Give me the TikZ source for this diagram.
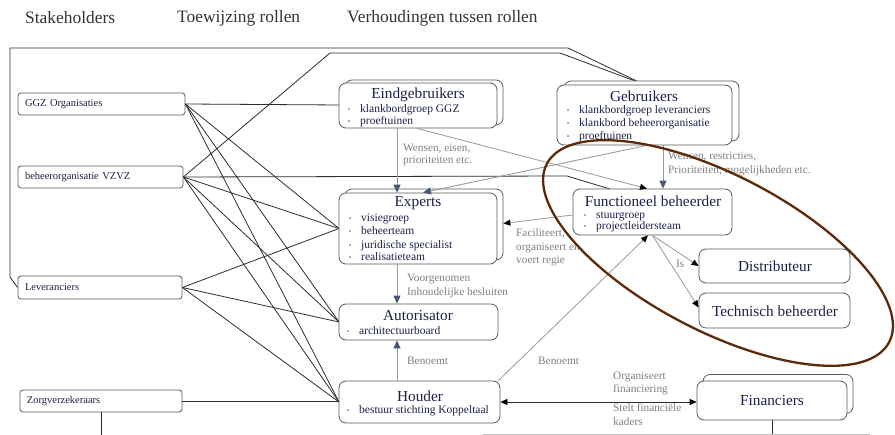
\documentclass[tikz,border=0pt]{standalone}
\usepackage{fontspec}
\setmainfont{Liberation Serif}
\usetikzlibrary{arrows.meta,calc}
\definecolor{navy}{HTML}{1C2148}
\definecolor{boxline}{HTML}{5A5A5A}
\definecolor{lbl}{HTML}{808080}
\definecolor{slate}{HTML}{4A5872}
\definecolor{arrline}{HTML}{9A9A9A}
\definecolor{brownell}{HTML}{5C2A0A}
\definecolor{conn}{HTML}{2E2E2E}
\newcommand{\bp}{\makebox[12pt][l]{\fontsize{6}{6}\selectfont\raisebox{1pt}{\textbullet}}}
\tikzset{
  sbox/.style={draw=boxline, line width=0.8pt, rounded corners=3pt, fill=white,
    font=\fontsize{10.5}{12}\selectfont, text=navy, align=left, inner xsep=7pt, inner ysep=0pt},
  rbox/.style={draw=boxline, line width=0.8pt, rounded corners=7pt, fill=white},
  ttl/.style={font=\fontsize{15.3}{17}\selectfont, text=navy, inner sep=0pt},
  bitem/.style={font=\fontsize{11.5}{13}\selectfont, text=navy, inner sep=0pt, anchor=west, text height=7.8pt, text depth=2.2pt},
  lab/.style={font=\fontsize{11.3}{13}\selectfont, text=lbl, inner sep=0pt, anchor=west, text height=7.6pt, text depth=2.2pt},
  head/.style={font=\fontsize{17.4}{20}\selectfont, text=black!80, inner sep=0pt, anchor=west},
  conline/.style={draw=conn, line width=0.8pt},
  sarr/.style={draw=arrline, line width=0.9pt, -{Triangle[length=8pt,width=7pt,color=slate]}},
  barr/.style={draw=arrline, line width=0.8pt, -{Triangle[length=7pt,width=6pt,color=black]}},
  darr/.style={draw=conn, line width=0.8pt, {Triangle[length=7pt,width=6pt,color=black]}-{Triangle[length=7pt,width=6pt,color=black]}}
}
\begin{document}
\begin{tikzpicture}[x=1pt,y=-1pt]
\useasboundingbox (0,0) rectangle (895,435);
\fill[white] (0,0) rectangle (895,435);

% headers
\node[head] (h1) at (25,18) {Stakeholders};
\node[head] (h2) at (177,18) {Toewijzing rollen};
\node[head] (h3) at (347,18) {Verhoudingen tussen rollen};

% stakeholder boxes
\node[sbox, text width=153pt, minimum height=22pt] (ggz) at (101.5,104) {GGZ Organisaties};
\node[sbox, text width=151pt, minimum height=22pt] (vzvz) at (100.5,177) {beheerorganisatie VZVZ};
\node[sbox, text width=150pt, minimum height=23pt] (lev) at (100,287.5) {Leveranciers};
\node[sbox, text width=148pt, minimum height=22pt] (zorg) at (101,401) {Zorgverzekeraars};

% outer loops
\coordinate (gebtop) at (643,84);
\draw[conline] (lev.west) -- (10,277) -- (10,48) -- (568,48) -- (gebtop);
\draw[conline] (vzvz.east) -- (330,53) -- (560,53) -- (gebtop);

% role boxes (shadows first)
\node[rbox, minimum width=158pt, minimum height=45pt] (eindS) at (424,102.5) {};
\node[rbox, minimum width=175pt, minimum height=60pt] (gebS) at (651.5,111) {};
\node[rbox, minimum width=158pt, minimum height=71pt] (expS) at (424,224.5) {};
\node[rbox, minimum width=150pt, minimum height=39pt] (finS) at (778,394) {};

% stakeholder connectors
\draw[conline] (ggz.east) -- (418,105.5);
\draw[conline] (vzvz.east) -- (567,176) -- (610,189);
\foreach \s in {ggz,vzvz,lev}{
  \draw[conline] (\s.east) -- (339,228.5);
  \draw[conline] (\s.east) -- (339,322);
  \draw[conline] (\s.east) -- (339,402);
}
\draw[conline] (zorg.east) -- (339,401);
\draw[conline] (zorg.south) -- (101,435);
\draw[conline] (772,420) -- (772,435);
\draw[black!25, line width=0.8pt] (483,434) -- (870,434);

\node[rbox, minimum width=158pt, minimum height=45pt] (eind) at (418,105.5) {};
\node[rbox, minimum width=175pt, minimum height=60pt] (geb) at (644.5,115) {};
\node[rbox, minimum width=158pt, minimum height=71pt] (exp) at (418,228.5) {};
\node[rbox, minimum width=159pt, minimum height=46pt] (func) at (652.5,212) {};
\node[rbox, minimum width=151pt, minimum height=34pt] (dist) at (774.5,266) {};
\node[rbox, minimum width=151pt, minimum height=35pt] (tech) at (774.5,310.5) {};
\node[rbox, minimum width=159pt, minimum height=36pt] (auto) at (418.5,322) {};
\node[rbox, minimum width=161pt, minimum height=42pt] (houd) at (419.5,402) {};
\node[rbox, minimum width=150pt, minimum height=39pt] (fin) at (772,400.5) {};

% texts inside boxes
\node[ttl] (eindT) at (418,95) {Eindgebruikers};
\node[bitem] (eind1) at (348,110) {\bp klankbordgroep GGZ};
\node[bitem] (eind2) at (348,122) {\bp proeftuinen};

\node[ttl] (gebT) at (644,96) {Gebruikers};
\node[bitem] (geb1) at (567,111) {\bp klankbordgroep leveranciers};
\node[bitem] (geb2) at (567,124) {\bp klankbord beheerorganisatie};
\node[bitem] (geb3) at (567,137) {\bp proeftuinen};

\node[ttl] (expT) at (418,203) {Experts};
\node[bitem] (exp1) at (349,219) {\bp visiegroep};
\node[bitem] (exp2) at (349,232) {\bp beheerteam};
\node[bitem] (exp3) at (349,246) {\bp juridische specialist};
\node[bitem] (exp4) at (349,258) {\bp realisatieteam};

\node[ttl] (funcT) at (653,201) {Functioneel beheerder};
\node[bitem] (func1) at (584,216) {\bp stuurgroep};
\node[bitem] (func2) at (584,227) {\bp projectleidersteam};

\node[ttl] (distT) at (775,266) {Distributeur};
\node[ttl] (techT) at (775,311) {Technisch beheerder};

\node[ttl] (autoT) at (418,316) {Autorisator};
\node[bitem] (auto1) at (347,332) {\bp architectuurboard};

\node[ttl] (houdT) at (420,396) {Houder};
\node[bitem] (houd1) at (347,411) {\bp bestuur stichting Koppeltaal};

\node[ttl] (finT) at (772,401) {Financiers};

% role arrows
\draw[sarr] ([xshift=-21pt]eind.south) -- ([xshift=-21pt]eind.south |- exp.north);
\draw[barr] ([xshift=-1pt]eind.south) -- ([xshift=-5.5pt]func.north);
\draw[sarr] ([xshift=2.5pt]geb.south) -- ([xshift=5pt]exp.north);
\draw[sarr] ([xshift=18.5pt]geb.south) -- ([xshift=18.5pt]geb.south |- func.north);
\draw[barr] ([yshift=-3pt]func.west) -- ([xshift=6pt,yshift=5pt]exp.east);
\draw[sarr] ([xshift=-21pt]exp.south) -- ([xshift=-21pt]exp.south |- auto.north);
\draw[sarr] ([xshift=-22.5pt]houd.north) -- ([xshift=-22.5pt]houd.north |- auto.south);
\draw[barr] ([xshift=-2pt]houd.north east) -- ([xshift=-4.5pt]func.south);
\draw[darr] (houd.east) -- (houd.east -| fin.west);
\draw[barr] (func.south) -- (dist.west);
\draw[barr] (func.south) -- ([yshift=3pt]tech.west);

% labels
\node[lab] (l1a) at (403,149) {Wensen, eisen,};
\node[lab] (l1b) at (403,161) {prioriteiten etc.};
\node[lab] (l2a) at (668,157) {Wensen, restricties,};
\node[lab] (l2b) at (668,171) {Prioriteiten, mogelijkheden etc.};
\node[lab] (l3a) at (516,234) {Faciliteert,};
\node[lab] (l3b) at (516,248) {organiseert en};
\node[lab] (l3c) at (516,261) {voert regie};
\node[lab] (l4a) at (407,279) {Voorgenomen};
\node[lab] (l4b) at (407,293) {Inhoudelijke besluiten};
\node[lab] (l5) at (407,362) {Benoemt};
\node[lab] (l6) at (538,362) {Benoemt};
\node[lab] (l7a) at (613,377) {Organiseert};
\node[lab] (l7b) at (613,390) {financiering};
\node[lab] (l8a) at (613,409) {Stelt financiële};
\node[lab] (l8b) at (613,423) {kaders};
\node[lab] (l9) at (676,265) {Is};

% ellipse
\draw[brownell, line width=2.3pt, rotate around={-27.5:(718,253)}] (718,253) ellipse [x radius=193pt, y radius=78pt];
\end{tikzpicture}
\end{document}
